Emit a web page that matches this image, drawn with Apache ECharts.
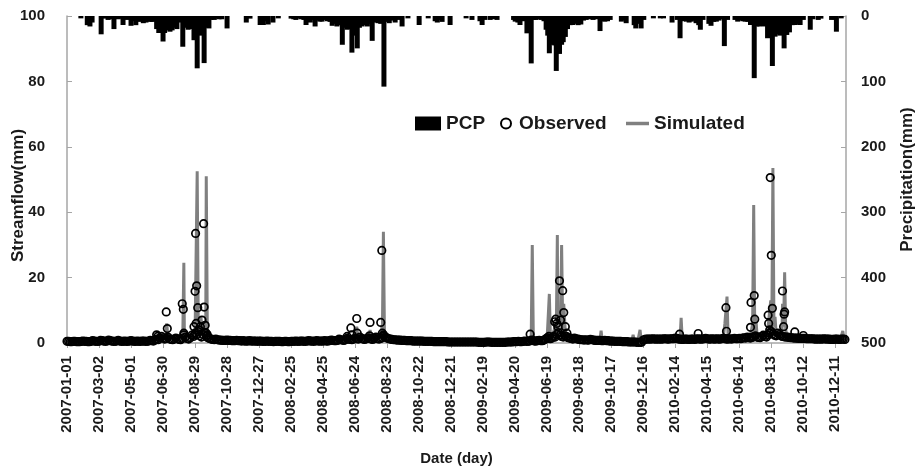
<!DOCTYPE html>
<html>
<head>
<meta charset="utf-8">
<title>Streamflow and precipitation</title>
<script src="https://cdn.jsdelivr.net/npm/echarts@6/dist/echarts.min.js"></script>
<style>
  html, body { margin: 0; padding: 0; background: #fff; }
  #main { width: 920px; height: 467px; }
</style>
</head>
<body>
<div id="main"></div>
<script>
// daily record 2007-01-01 .. 2010-12-31, the x axis counts days from 2007-01-01
const lastDay = 1460;
const tickDays = 60;

// precipitation (mm) on rain days
const pcp = [
  ['2007-01-27', 3.6], ['2007-02-08', 14], ['2007-02-13', 16], ['2007-02-17', 10], ['2007-03-06', 28],
  ['2007-03-12', 4], ['2007-03-19', 6], ['2007-03-24', 5], ['2007-03-30', 20], ['2007-04-07', 5],
  ['2007-04-11', 4], ['2007-04-16', 13.8], ['2007-04-23', 6], ['2007-05-01', 15], ['2007-05-06', 8],
  ['2007-05-10', 14], ['2007-05-15', 9], ['2007-05-19', 7], ['2007-05-24', 11], ['2007-05-29', 10],
  ['2007-06-02', 6], ['2007-06-06', 9], ['2007-06-10', 9], ['2007-06-15', 8], ['2007-06-18', 20],
  ['2007-06-22', 26], ['2007-06-26', 24], ['2007-06-30', 39], ['2007-07-03', 26], ['2007-07-06', 22],
  ['2007-07-10', 20], ['2007-07-13', 24], ['2007-07-17', 22], ['2007-07-22', 18], ['2007-07-26', 20],
  ['2007-07-30', 10], ['2007-08-02', 9], ['2007-08-06', 47], ['2007-08-11', 18], ['2007-08-16', 21],
  ['2007-08-21', 20], ['2007-08-27', 37], ['2007-09-02', 80], ['2007-09-07', 30], ['2007-09-10', 15],
  ['2007-09-15', 72], ['2007-09-19', 18], ['2007-09-24', 19], ['2007-09-28', 6], ['2007-10-04', 6],
  ['2007-10-08', 4], ['2007-10-13', 5], ['2007-10-18', 5], ['2007-10-28', 19], ['2007-12-03', 10],
  ['2007-12-10', 4], ['2007-12-29', 13.8],
  ['2008-01-04', 13.8], ['2008-01-09', 8], ['2008-01-13', 13], ['2008-01-22', 10], ['2008-02-01', 3.6],
  ['2008-02-25', 4], ['2008-03-01', 5], ['2008-03-05', 6], ['2008-03-10', 4], ['2008-03-15', 5],
  ['2008-03-20', 6], ['2008-03-24', 13.8], ['2008-03-28', 7], ['2008-04-01', 10], ['2008-04-06', 6],
  ['2008-04-10', 16], ['2008-04-15', 7], ['2008-04-19', 8.6], ['2008-04-23', 8.6], ['2008-04-28', 6],
  ['2008-05-03', 8], ['2008-05-08', 9], ['2008-05-12', 15], ['2008-05-17', 12], ['2008-05-21', 16],
  ['2008-05-26', 14], ['2008-05-31', 44], ['2008-06-05', 18], ['2008-06-09', 21], ['2008-06-14', 20],
  ['2008-06-18', 56], ['2008-06-23', 30], ['2008-06-28', 49.5], ['2008-07-02', 18], ['2008-07-07', 16],
  ['2008-07-12', 14], ['2008-07-17', 16], ['2008-07-21', 12], ['2008-07-26', 38], ['2008-07-31', 10],
  ['2008-08-06', 11], ['2008-08-11', 12], ['2008-08-17', 108], ['2008-08-22', 9], ['2008-08-27', 11],
  ['2008-09-01', 7], ['2008-09-07', 10], ['2008-09-12', 6], ['2008-09-20', 16], ['2008-10-01', 3.6],
  ['2008-10-22', 13.8], ['2008-11-08', 3.6], ['2008-11-21', 8], ['2008-11-25', 10], ['2008-11-30', 6],
  ['2008-12-04', 9], ['2008-12-19', 13.8],
  ['2009-01-18', 3.6], ['2009-01-29', 6], ['2009-02-13', 8], ['2009-02-17', 13.8], ['2009-02-22', 6],
  ['2009-03-04', 6], ['2009-03-10', 5], ['2009-03-17', 6], ['2009-04-17', 6], ['2009-04-20', 8.6],
  ['2009-04-25', 10], ['2009-04-29', 13.8], ['2009-05-05', 8], ['2009-05-12', 26.5], ['2009-05-20', 72.5],
  ['2009-05-25', 6], ['2009-05-29', 6], ['2009-06-03', 5], ['2009-06-08', 6], ['2009-06-13', 8],
  ['2009-06-17', 21], ['2009-06-20', 30], ['2009-06-23', 57], ['2009-06-27', 40], ['2009-06-30', 44],
  ['2009-07-03', 45], ['2009-07-06', 84], ['2009-07-09', 50], ['2009-07-12', 58], ['2009-07-16', 44],
  ['2009-07-19', 40], ['2009-07-23', 32], ['2009-07-27', 20], ['2009-08-01', 14], ['2009-08-06', 13.8],
  ['2009-08-11', 12], ['2009-08-16', 14], ['2009-08-21', 13], ['2009-08-26', 7], ['2009-08-31', 6],
  ['2009-09-07', 5], ['2009-09-13', 6], ['2009-09-19', 5], ['2009-09-26', 23], ['2009-10-01', 8],
  ['2009-10-05', 8.6], ['2009-10-10', 8], ['2009-10-15', 6], ['2009-11-05', 8.6], ['2009-11-10', 6],
  ['2009-11-14', 11], ['2009-11-29', 14], ['2009-12-02', 19], ['2009-12-07', 12], ['2009-12-12', 19],
  ['2009-12-17', 6],
  ['2010-01-04', 3.6], ['2010-01-17', 3.6], ['2010-01-23', 3.6], ['2010-02-08', 10], ['2010-02-18', 6],
  ['2010-02-23', 34], ['2010-02-28', 8], ['2010-03-07', 8.6], ['2010-03-12', 10], ['2010-03-16', 8.6],
  ['2010-03-21', 7], ['2010-03-25', 11], ['2010-03-30', 14], ['2010-04-02', 21], ['2010-04-07', 6],
  ['2010-04-18', 12], ['2010-04-22', 15], ['2010-04-27', 9], ['2010-05-02', 8.6], ['2010-05-07', 7],
  ['2010-05-12', 5], ['2010-05-17', 46], ['2010-05-23', 6], ['2010-06-06', 6], ['2010-06-11', 8.6],
  ['2010-06-16', 7], ['2010-06-21', 8], ['2010-06-25', 8.6], ['2010-06-30', 9], ['2010-07-05', 13.8],
  ['2010-07-12', 95], ['2010-07-17', 16], ['2010-07-22', 16], ['2010-07-27', 14], ['2010-07-31', 16],
  ['2010-08-06', 34], ['2010-08-10', 20], ['2010-08-15', 76.5], ['2010-08-20', 31.6], ['2010-08-25', 28],
  ['2010-08-29', 30], ['2010-09-03', 25], ['2010-09-06', 49.5], ['2010-09-11', 29], ['2010-09-16', 25],
  ['2010-09-21', 14], ['2010-09-27', 13.8], ['2010-10-02', 12], ['2010-10-06', 13.8], ['2010-10-12', 6],
  ['2010-10-25', 21], ['2010-10-30', 5], ['2010-11-09', 6], ['2010-11-14', 4], ['2010-12-04', 6],
  ['2010-12-09', 5], ['2010-12-13', 24], ['2010-12-22', 3.6]
];

// observed streamflow (mm), one reading every 3 days; each row covers one 60-day tick step
const obsStep = 3;
const obsBase = [
  0.5, 0.5, 0.4, 0.4, 0.5, 0.5, 0.4, 0.4, 0.4, 0.5, 0.6, 0.5, 0.5, 0.4, 0.4, 0.5, 0.7, 0.6, 0.5, 0.5,
  0.5, 0.8, 0.7, 0.6, 0.5, 0.6, 0.9, 0.7, 0.6, 0.5, 0.5, 0.6, 0.8, 0.6, 0.5, 0.5, 0.6, 0.5, 0.5, 0.6,
  0.7, 0.6, 0.5, 0.5, 0.6, 0.5, 0.5, 0.6, 0.6, 0.5, 0.5, 0.6, 0.8, 0.7, 0.6, 0.9, 1.2, 1.0, 1.5, 2.0,
  1.6, 1.2, 1.4, 1.8, 1.3, 1.1, 1.0, 1.2, 1.5, 1.3, 1.1, 1.0, 1.4, 2.5, 1.8, 1.4, 1.2, 1.6, 2.4, 2.0,
  3.0, 2.5, 3.5, 2.2, 1.8, 2.6, 3.2, 2.0, 1.6, 1.4, 1.2, 1.1, 1.0, 1.2, 1.0, 0.9, 0.9, 0.8, 0.8, 0.8,
  0.9, 0.8, 0.8, 0.7, 0.7, 0.7, 0.8, 0.7, 0.7, 0.6, 0.7, 0.6, 0.6, 0.6, 0.7, 0.6, 0.6, 0.6, 0.6, 0.5,
  0.6, 0.6, 0.5, 0.5, 0.5, 0.6, 0.5, 0.5, 0.5, 0.4, 0.5, 0.5, 0.5, 0.5, 0.4, 0.4, 0.5, 0.5, 0.4, 0.4,
  0.5, 0.5, 0.5, 0.6, 0.5, 0.5, 0.6, 0.6, 0.5, 0.5, 0.6, 0.7, 0.6, 0.6, 0.5, 0.6, 0.7, 0.6, 0.6, 0.6,
  0.6, 0.7, 0.6, 0.6, 0.7, 0.9, 0.8, 0.7, 0.7, 0.8, 1.2, 1.0, 0.9, 0.8, 1.0, 1.4, 1.2, 1.1, 1.0, 1.2,
  1.5, 1.3, 1.2, 1.8, 1.4, 1.2, 1.1, 1.3, 1.6, 1.4, 1.2, 1.1, 1.5, 1.8, 1.3, 1.2, 1.4, 1.6, 2.2, 1.8,
  1.5, 1.3, 1.2, 1.1, 1.0, 1.0, 0.9, 0.9, 0.9, 0.8, 0.8, 0.8, 0.7, 0.7, 0.7, 0.7, 0.6, 0.6, 0.6, 0.6,
  0.6, 0.6, 0.6, 0.5, 0.5, 0.5, 0.5, 0.5, 0.5, 0.4, 0.4, 0.4, 0.4, 0.4, 0.4, 0.4, 0.4, 0.4, 0.3, 0.3,
  0.3, 0.3, 0.3, 0.3, 0.3, 0.3, 0.3, 0.3, 0.3, 0.3, 0.3, 0.3, 0.3, 0.3, 0.3, 0.3, 0.3, 0.2, 0.2, 0.2,
  0.2, 0.2, 0.3, 0.3, 0.3, 0.2, 0.2, 0.2, 0.2, 0.2, 0.2, 0.2, 0.2, 0.2, 0.2, 0.3, 0.3, 0.3, 0.3, 0.4,
  0.4, 0.4, 0.5, 0.4, 0.4, 0.5, 0.6, 0.5, 0.5, 0.6, 0.9, 0.8, 0.6, 0.6, 0.7, 0.8, 0.7, 0.7, 0.9, 1.2,
  1.6, 1.4, 1.3, 1.5, 2.0, 1.8, 2.6, 3.2, 2.4, 2.0, 1.8, 2.2, 2.0, 1.6, 1.5, 1.4, 1.2, 1.5, 1.3, 1.2,
  1.1, 1.0, 1.0, 0.9, 1.0, 0.9, 0.9, 1.1, 1.0, 0.9, 0.8, 0.8, 0.8, 0.8, 0.7, 0.7, 0.8, 0.7, 0.7, 0.6,
  0.6, 0.6, 0.5, 0.5, 0.5, 0.5, 0.5, 0.4, 0.4, 0.4, 0.4, 0.3, 0.3, 0.3, 0.3, 0.3, 0.2, 0.2, 0.2, 0.2,
  0.9, 1.1, 1.2, 1.2, 1.2, 1.2, 1.3, 1.2, 1.2, 1.2, 1.2, 1.2, 1.2, 1.3, 1.3, 1.2, 1.2, 1.3, 1.3, 1.3,
  1.5, 1.4, 1.2, 1.2, 1.1, 1.1, 1.2, 1.2, 1.1, 1.1, 1.2, 1.2, 1.1, 1.2, 1.3, 1.2, 1.2, 1.2, 1.3, 1.4,
  1.3, 1.2, 1.2, 1.3, 1.2, 1.2, 1.3, 1.2, 1.2, 1.3, 1.4, 1.3, 1.2, 1.2, 1.3, 1.2, 1.3, 1.4, 1.3, 1.3,
  1.4, 1.3, 1.5, 1.6, 1.5, 1.8, 1.6, 1.5, 1.7, 1.9, 2.2, 1.8, 1.7, 1.6, 2.0, 2.4, 2.0, 1.8, 2.5, 3.0,
  3.5, 2.8, 2.4, 2.2, 3.0, 2.6, 2.2, 2.0, 1.9, 1.8, 1.8, 1.7, 1.6, 1.6, 1.5, 1.5, 1.5, 1.4, 1.4, 1.4,
  1.4, 1.4, 1.3, 1.3, 1.3, 1.3, 1.3, 1.2, 1.2, 1.2, 1.2, 1.2, 1.2, 1.3, 1.2, 1.2, 1.2, 1.1, 1.1, 1.1,
  1.2, 1.2, 1.1, 1.1, 1.2, 1.2, 1.1
];

// observed storm readings (mm)
const obsPeaks = [
  ['2007-06-18', 2.5], ['2007-06-20', 2.0], ['2007-07-06', 9.5], ['2007-07-08', 4.4], ['2007-08-05', 12.0],
  ['2007-08-07', 10.3], ['2007-08-08', 3.0], ['2007-08-27', 5.0], ['2007-08-29', 15.8], ['2007-08-30', 33.5],
  ['2007-08-31', 6.0], ['2007-09-01', 17.5], ['2007-09-03', 10.8], ['2007-09-05', 4.0], ['2007-09-08', 5.0],
  ['2007-09-11', 7.0], ['2007-09-14', 36.5], ['2007-09-15', 11.0], ['2007-09-17', 5.4], ['2007-09-19', 3.0],
  ['2007-09-21', 2.5],
  ['2008-06-09', 2.0], ['2008-06-16', 4.6], ['2008-06-18', 2.5], ['2008-06-27', 7.5], ['2008-06-28', 3.0],
  ['2008-07-21', 2.2], ['2008-07-22', 6.3], ['2008-08-11', 6.3], ['2008-08-13', 28.3], ['2008-08-14', 3.0],
  ['2008-08-16', 2.5],
  ['2009-05-18', 2.7], ['2009-06-22', 2.0], ['2009-07-03', 6.5], ['2009-07-05', 7.3], ['2009-07-07', 6.0],
  ['2009-07-09', 5.0], ['2009-07-12', 19.0], ['2009-07-14', 7.0], ['2009-07-18', 16.0], ['2009-07-20', 9.3],
  ['2009-07-23', 5.0], ['2009-07-26', 3.0],
  ['2010-02-22', 2.7], ['2010-03-29', 2.9], ['2010-05-20', 10.8], ['2010-05-21', 3.6], ['2010-07-05', 4.8],
  ['2010-07-06', 12.4], ['2010-07-12', 14.5], ['2010-07-13', 7.3], ['2010-08-07', 8.5], ['2010-08-08', 6.0],
  ['2010-08-10', 4.0], ['2010-08-11', 50.6], ['2010-08-13', 26.8], ['2010-08-15', 10.6], ['2010-09-03', 15.9],
  ['2010-09-05', 5.0], ['2010-09-06', 8.8], ['2010-09-07', 9.5], ['2010-09-26', 3.4], ['2010-10-12', 2.3]
];

// simulated streamflow (mm), one value every 10 days; each row covers one 60-day tick step
const simStep = 10;
const simBase = [
  0.8, 0.8, 0.7, 0.9, 0.8, 0.8,
  1.0, 0.9, 0.8, 1.0, 0.9, 0.9,
  0.9, 1.0, 0.9, 0.9, 1.2, 1.5,
  1.6, 1.4, 1.3, 1.5, 2.0, 1.6,
  2.5, 2.0, 2.2, 1.6, 1.3, 1.2,
  1.1, 1.0, 1.0, 0.9, 0.9, 0.9,
  0.8, 0.8, 0.8, 0.8, 0.8, 0.8,
  0.8, 0.9, 0.9, 1.0, 0.9, 0.9,
  1.0, 1.0, 1.1, 1.2, 1.3, 1.4,
  1.5, 1.4, 1.4, 1.6, 1.5, 1.8,
  1.4, 1.2, 1.1, 1.0, 1.0, 0.9,
  0.9, 0.9, 0.8, 0.8, 0.8, 0.7,
  0.7, 0.7, 0.7, 0.7, 0.6, 0.6,
  0.6, 0.6, 0.6, 0.6, 0.7, 0.7,
  0.8, 0.9, 1.0, 1.2, 1.2, 1.5,
  2.0, 2.5, 2.0, 1.8, 1.6, 1.5,
  1.3, 1.2, 1.2, 1.1, 1.0, 1.0,
  1.0, 0.9, 0.9, 0.9, 0.9, 0.8,
  1.0, 1.2, 1.2, 1.3, 1.3, 1.3,
  1.3, 1.3, 1.4, 1.3, 1.4, 1.4,
  1.4, 1.4, 1.5, 1.5, 1.5, 1.6,
  1.8, 1.7, 2.0, 2.2, 2.5, 2.8,
  3.0, 2.6, 2.4, 2.0, 1.9, 1.8,
  1.7, 1.6, 1.6, 1.5, 1.5, 1.5,
  1.5, 1.4, 1.4
];

// simulated storm hydrographs (mm)
const simPeaks = [
  ['2007-07-05', 1.5], ['2007-07-07', 6], ['2007-07-09', 1.8],
  ['2007-08-06', 2], ['2007-08-08', 24.5], ['2007-08-10', 2],
  ['2007-08-31', 3], ['2007-09-02', 52.5], ['2007-09-04', 6], ['2007-09-07', 4], ['2007-09-09', 8],
  ['2007-09-12', 3], ['2007-09-17', 5], ['2007-09-19', 51], ['2007-09-21', 4], ['2007-09-24', 2],
  ['2008-06-25', 1.5], ['2008-06-27', 5], ['2008-06-29', 1.5],
  ['2008-07-20', 1.5], ['2008-07-22', 4], ['2008-07-24', 1.5],
  ['2008-08-11', 3], ['2008-08-13', 5], ['2008-08-14', 2], ['2008-08-16', 34], ['2008-08-18', 2.5],
  ['2009-05-20', 1], ['2009-05-22', 30], ['2009-05-24', 1.2],
  ['2009-06-21', 1.5], ['2009-06-23', 15], ['2009-06-25', 2],
  ['2009-07-02', 4], ['2009-07-05', 6], ['2009-07-06', 3], ['2009-07-08', 33], ['2009-07-10', 5],
  ['2009-07-12', 10], ['2009-07-14', 6], ['2009-07-16', 30], ['2009-07-18', 6], ['2009-07-20', 12],
  ['2009-07-23', 3],
  ['2009-09-26', 1.2], ['2009-09-28', 3.8], ['2009-09-30', 1.0],
  ['2009-11-25', 0.9], ['2009-11-27', 2.5], ['2009-11-29', 0.9],
  ['2009-12-08', 1.0], ['2009-12-10', 4], ['2009-12-12', 1.1],
  ['2010-02-23', 1.3], ['2010-02-25', 7.7], ['2010-02-27', 1.3],
  ['2010-05-18', 6], ['2010-05-20', 10], ['2010-05-22', 14.2], ['2010-05-24', 2],
  ['2010-07-07', 4], ['2010-07-09', 6], ['2010-07-11', 42.2], ['2010-07-13', 4], ['2010-07-15', 8],
  ['2010-07-17', 3],
  ['2010-08-07', 5], ['2010-08-10', 10], ['2010-08-12', 13], ['2010-08-14', 6], ['2010-08-16', 53.5],
  ['2010-08-18', 5], ['2010-08-20', 8], ['2010-08-22', 3],
  ['2010-09-01', 4], ['2010-09-03', 12], ['2010-09-05', 5], ['2010-09-07', 21.6], ['2010-09-09', 4],
  ['2010-09-12', 2.5],
  ['2010-12-23', 1.4], ['2010-12-25', 3.7], ['2010-12-27', 1.4]
];

const t0 = Date.UTC(2007, 0, 1);
function dayOf(s) {
  const p = s.split('-');
  return Math.round((Date.UTC(+p[0], +p[1] - 1, +p[2]) - t0) / 864e5);
}
function dateOf(d) {
  return new Date(t0 + d * 864e5).toISOString().slice(0, 10);
}

const pcpData = pcp.map(p => [dayOf(p[0]), p[1]]);
const obsData = obsBase.map((v, i) => [i * obsStep, v])
  .concat(obsPeaks.map(p => [dayOf(p[0]), p[1]]));
const simData = simBase.map((v, i) => [i * simStep, v])
  .concat(simPeaks.map(p => [dayOf(p[0]), p[1]]))
  .sort((a, b) => a[0] - b[0]);

const font = 'Liberation Sans, Arial, sans-serif';
const axisGrey = '#a6a6a6';
const ink = '#1a1a1a';
const legendText = { fontFamily: font, fontSize: 19, fontWeight: 'bold', color: ink };

const chart = echarts.init(document.getElementById('main'));
chart.setOption({
  animation: false,
  backgroundColor: '#fff',
  grid: { left: 67, right: 74, top: 16, bottom: 124, outerBoundsMode: 'none', containLabel: false },
  legend: [
    { data: [{ name: 'PCP', icon: 'rect' }], left: 415, top: 114, padding: 0,
      itemWidth: 26, itemHeight: 14, textStyle: legendText },
    { data: ['Observed'], left: 500, top: 114, padding: 0,
      itemWidth: 16, itemHeight: 10, textStyle: legendText },
    { data: [{ name: 'Simulated', icon: 'rect' }], left: 626, top: 114, padding: 0,
      itemWidth: 23, itemHeight: 3.5, textStyle: legendText }
  ],
  xAxis: {
    type: 'value',
    min: 0,
    max: lastDay,
    interval: tickDays,
    name: 'Date (day)',
    nameLocation: 'middle',
    nameGap: 108,
    nameMoveOverlap: false,
    nameTextStyle: { fontFamily: font, fontSize: 15, fontWeight: 'bold', color: ink },
    axisLine: { show: true, lineStyle: { color: axisGrey, width: 1.5 } },
    axisTick: { show: true, inside: false, length: 5, lineStyle: { color: axisGrey } },
    axisLabel: {
      rotate: 90, margin: 13, showMaxLabel: false,
      fontFamily: font, fontSize: 15, fontWeight: 'bold', color: ink,
      formatter: v => dateOf(v)
    },
    splitLine: { show: false }
  },
  yAxis: [
    {
      type: 'value', min: 0, max: 100, interval: 20,
      name: 'Streamflow(mm)', nameLocation: 'middle', nameGap: 40, nameMoveOverlap: false,
      nameTextStyle: { fontFamily: font, fontSize: 17, fontWeight: 'bold', color: ink, padding: [0, 32, 0, 0] },
      axisLine: { show: true, lineStyle: { color: axisGrey, width: 1.5 } },
      axisTick: { show: true, inside: true, length: 5, lineStyle: { color: axisGrey } },
      axisLabel: { margin: 22, fontFamily: font, fontSize: 15, fontWeight: 'bold', color: ink },
      splitLine: { show: false }
    },
    {
      type: 'value', min: 0, max: 500, interval: 100, inverse: true, position: 'right',
      name: 'Precipitation(mm)', nameLocation: 'middle', nameGap: 53, nameMoveOverlap: false,
      nameTextStyle: { fontFamily: font, fontSize: 17, fontWeight: 'bold', color: ink },
      axisLine: { show: true, lineStyle: { color: axisGrey, width: 1.5 } },
      axisTick: { show: true, inside: true, length: 5, lineStyle: { color: axisGrey } },
      axisLabel: { margin: 15, fontFamily: font, fontSize: 15, fontWeight: 'bold', color: ink },
      splitLine: { show: false }
    }
  ],
  series: [
    {
      name: 'PCP', type: 'bar', yAxisIndex: 1, data: pcpData,
      barWidth: 5, itemStyle: { color: '#000' }, z: 2
    },
    {
      name: 'Simulated', type: 'line', yAxisIndex: 0, data: simData,
      symbol: 'none', lineStyle: { color: '#808080', width: 3 },
      itemStyle: { color: '#808080' }, z: 3
    },
    {
      name: 'Observed', type: 'scatter', yAxisIndex: 0, data: obsData,
      symbol: 'circle', symbolSize: 7.5,
      itemStyle: { color: 'rgba(255,255,255,0)', borderColor: '#000', borderWidth: 1.7, opacity: 1 }, z: 4
    }
  ]
});
</script>
</body>
</html>
